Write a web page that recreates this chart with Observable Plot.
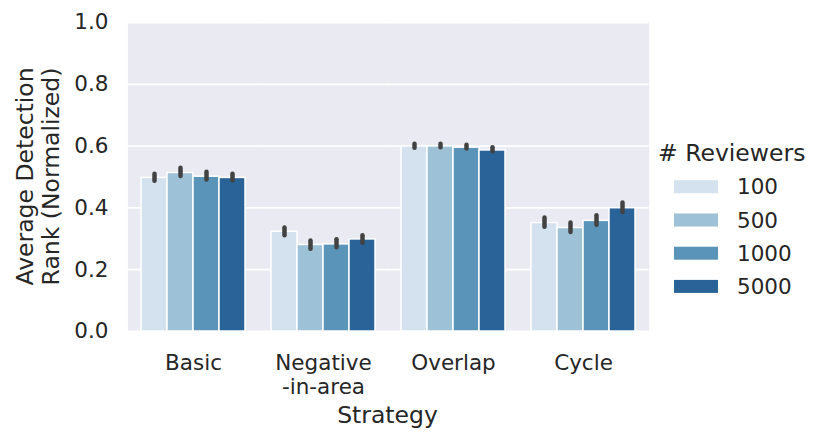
<!DOCTYPE html>
<html>
<head>
<meta charset="utf-8">
<script src="https://cdn.jsdelivr.net/npm/d3@7"></script>
<script src="https://cdn.jsdelivr.net/npm/@observablehq/plot@0.6"></script>
<style>
  html, body { margin: 0; padding: 0; background: white; }
  #chart { width: 831px; height: 442px; }
</style>
</head>
<body>
<div id="chart"></div>
<script>
// Categories
const strategies = ["Basic", "Negative-in-area", "Overlap", "Cycle"];
const strategyLabels = ["Basic", "Negative\n-in-area", "Overlap", "Cycle"];
const reviewers = ["100", "500", "1000", "5000"];
const yTicks = [0, 0.2, 0.4, 0.6, 0.8, 1.0];
const colors = ["#d4e1ee", "#9dc1d6", "#5a94b9", "#2a6398"];

// Mean values per reviewer series (order: Basic, Negative-in-area, Overlap, Cycle)
const mean100  = [0.497, 0.323, 0.599, 0.351];
const mean500  = [0.513, 0.280, 0.599, 0.335];
const mean1000 = [0.501, 0.282, 0.595, 0.358];
const mean5000 = [0.497, 0.298, 0.586, 0.399];

// Confidence interval bounds
const lo100  = [0.486, 0.310, 0.593, 0.337];
const hi100  = [0.509, 0.335, 0.606, 0.367];
const lo500  = [0.502, 0.266, 0.595, 0.320];
const hi500  = [0.528, 0.293, 0.606, 0.351];
const lo1000 = [0.490, 0.271, 0.591, 0.344];
const hi1000 = [0.515, 0.297, 0.603, 0.375];
const lo5000 = [0.488, 0.286, 0.582, 0.385];
const hi5000 = [0.509, 0.310, 0.595, 0.416];

const means = [mean100, mean500, mean1000, mean5000];
const los = [lo100, lo500, lo1000, lo5000];
const his = [hi100, hi500, hi1000, hi5000];

const data = strategies.flatMap((s, i) =>
  reviewers.map((r, j) => ({strategy: s, reviewers: r, value: means[j][i], lo: los[j][i], hi: his[j][i]}))
);

const textColor = "#262626";
const font = "DejaVu Sans";

const W = 831, H = 442, mL = 127, mR = 183, mT = 22, mB = 111;

const svg = Plot.plot({
  width: W, height: H,
  marginLeft: mL, marginRight: mR, marginTop: mT, marginBottom: mB,
  style: {fontFamily: font, color: textColor, background: "white", overflow: "visible"},
  fx: {domain: strategies, padding: 0, label: null},
  x: {domain: reviewers, paddingInner: 0, paddingOuter: 0.5, axis: null},
  y: {domain: [0, 1], label: null},
  color: {domain: reviewers, range: colors},
  marks: [
    Plot.frame({fill: "#eaeaf2", stroke: "none", insetLeft: -0.6, insetRight: -0.6}),
    Plot.gridY(yTicks, {stroke: "white", strokeOpacity: 1, strokeWidth: 1.8, insetLeft: -0.6, insetRight: -0.6}),
    Plot.barY(data, {fx: "strategy", x: "reviewers", y: "value", fill: "reviewers", stroke: "white", strokeWidth: 1.5}),
    Plot.ruleX(data, {fx: "strategy", x: "reviewers", y1: "lo", y2: "hi", stroke: "#424242", strokeWidth: 4.5, strokeLinecap: "round"}),
    Plot.axisY(yTicks, {tickSize: 0, tickPadding: 20, fontSize: 21.5, tickFormat: d3.format(".1f"), label: null, fill: textColor}),
    Plot.axisFx({anchor: "bottom", tickSize: 0, tickPadding: 21, fontSize: 21.5, lineHeight: 1.135, label: null, fill: textColor,
      tickFormat: d => strategyLabels[strategies.indexOf(d)]})
  ]
});

const s = d3.select(svg);

// Y axis label (two lines)
const yLabLines = ["Average Detection", "Rank (Normalized)"];
const yLabX = [33, 58.5];
yLabLines.forEach((t, i) => {
  s.append("text")
    .attr("transform", `translate(${yLabX[i]},${(mT + (H - mB)) / 2}) rotate(-90)`)
    .attr("text-anchor", "middle")
    .attr("fill", textColor)
    .style("font-family", font)
    .style("font-size", "23.5px")
    .text(t);
});

// X axis label
s.append("text")
  .attr("x", mL + (W - mL - mR) / 2)
  .attr("y", 422.7)
  .attr("text-anchor", "middle")
  .attr("fill", textColor)
  .style("font-family", font)
  .style("font-size", "23.5px")
  .text("Strategy");

// Legend
const color = svg.scale("color");
const lg = s.append("g").attr("text-anchor", "start");
lg.append("text")
  .attr("x", 658).attr("y", 161)
  .attr("text-anchor", "start")
  .attr("fill", textColor)
  .style("font-family", font)
  .style("font-size", "23.5px")
  .text("# Reviewers");
const rowY = [186.7, 220, 253.2, 286.4];
reviewers.forEach((r, i) => {
  lg.append("rect")
    .attr("x", 674).attr("y", rowY[i] - 6.5)
    .attr("width", 44).attr("height", 13)
    .attr("fill", color.apply(r));
  lg.append("text")
    .attr("x", 737).attr("y", rowY[i])
    .attr("dy", "0.36em")
    .attr("text-anchor", "start")
    .attr("fill", textColor)
    .style("font-family", font)
    .style("font-size", "21.5px")
    .text(r);
});

document.getElementById("chart").appendChild(svg);
</script>
</body>
</html>
